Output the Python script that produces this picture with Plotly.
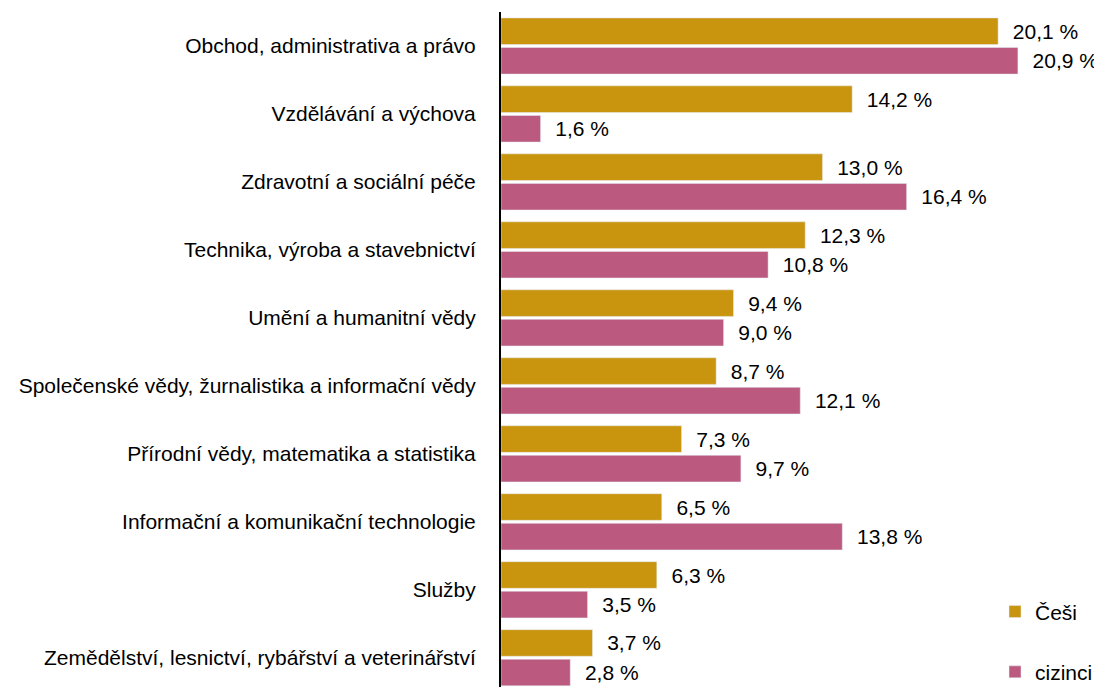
import plotly.graph_objects as go

categories = [
    "Obchod, administrativa a právo",
    "Vzdělávání a výchova",
    "Zdravotní a sociální péče",
    "Technika, výroba a stavebnictví",
    "Umění a humanitní vědy",
    "Společenské vědy, žurnalistika a informační vědy",
    "Přírodní vědy, matematika a statistika",
    "Informační a komunikační technologie",
    "Služby",
    "Zemědělství, lesnictví, rybářství a veterinářství",
]
cesi = [20.1, 14.2, 13.0, 12.3, 9.4, 8.7, 7.3, 6.5, 6.3, 3.7]
cizinci = [20.9, 1.6, 16.4, 10.8, 9.0, 12.1, 9.7, 13.8, 3.5, 2.8]

GOLD = "#C9950F"
PINK = "#BB5A7E"
FONT = "Liberation Sans, Arial, sans-serif"
FS = 21

fig = go.Figure()
fig.add_trace(go.Bar(
    y=categories, x=cesi, orientation="h", name="Češi", marker_color=GOLD,
    legendgroup="a",
    texttemplate="\u00a0\u00a0%{x:.1f}\u00a0%", textposition="outside",
    textfont=dict(color="black", size=FS, family=FONT), cliponaxis=False,
))
fig.add_trace(go.Bar(
    y=categories, x=cizinci, orientation="h", name="cizinci", marker_color=PINK,
    legendgroup="b",
    texttemplate="\u00a0\u00a0%{x:.1f}\u00a0%", textposition="outside",
    textfont=dict(color="black", size=FS, family=FONT), cliponaxis=False,
))

# page body has an 8px margin, so the figure is offset by (8, 8)
fig.update_layout(
    width=1094, height=679,
    margin=dict(l=493, r=0, t=4, b=0, autoexpand=False),
    paper_bgcolor="white", plot_bgcolor="white",
    barmode="group", bargap=0.13, bargroupgap=0.1,
    separators=", ",
    font=dict(family=FONT, size=FS, color="black"),
    showlegend=True,
    legend=dict(x=0.822, xanchor="left", y=-0.008, yanchor="bottom",
                tracegroupgap=30, font=dict(size=FS, family=FONT),
                bgcolor="rgba(0,0,0,0)"),
)
fig.update_xaxes(range=[0, 24.30], showticklabels=False, showgrid=False,
                 zeroline=False, showline=False, automargin=False)
fig.update_yaxes(range=[9.43, -0.5], showline=True, linecolor="black", linewidth=2,
                 ticks="", showgrid=False, ticklabelstandoff=19, automargin=False,
                 tickfont=dict(size=FS, family=FONT, color="black"))

fig.write_html("out.html")
